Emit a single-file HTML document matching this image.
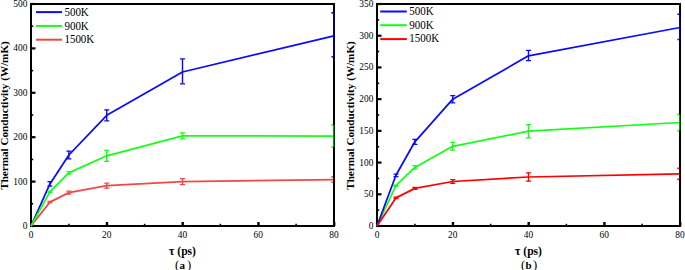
<!DOCTYPE html>
<html><head><meta charset="utf-8"><style>
html,body{margin:0;padding:0;background:#fff;}
body{width:685px;height:270px;overflow:hidden;}
svg{display:block;}
text{font-family:"Liberation Serif",serif;fill:#000;}
.tk{font-size:9.4px;}
.lg{font-size:11px;}
.ax{font-size:11px;font-weight:bold;}
.yt{font-size:11.15px;}
.xt{font-size:11.6px;}
.pr{font-size:12.6px;}
</style></head><body>
<svg width="685" height="270" viewBox="0 0 685 270">
<rect width="685" height="270" fill="#fff"/>
<rect x="31" y="4" width="303" height="222" fill="none" stroke="#000" stroke-width="2"/>
<line x1="31" y1="226" x2="35.5" y2="226" stroke="#000" stroke-width="2.2"/>
<text x="27.4" y="229" text-anchor="end" class="tk">0</text>
<line x1="31" y1="203.8" x2="33.2" y2="203.8" stroke="#000" stroke-width="1.6"/>
<line x1="31" y1="181.6" x2="35.5" y2="181.6" stroke="#000" stroke-width="2.2"/>
<text x="27.4" y="184.6" text-anchor="end" class="tk">100</text>
<line x1="31" y1="159.4" x2="33.2" y2="159.4" stroke="#000" stroke-width="1.6"/>
<line x1="31" y1="137.2" x2="35.5" y2="137.2" stroke="#000" stroke-width="2.2"/>
<text x="27.4" y="140.2" text-anchor="end" class="tk">200</text>
<line x1="31" y1="115" x2="33.2" y2="115" stroke="#000" stroke-width="1.6"/>
<line x1="31" y1="92.8" x2="35.5" y2="92.8" stroke="#000" stroke-width="2.2"/>
<text x="27.4" y="95.8" text-anchor="end" class="tk">300</text>
<line x1="31" y1="70.6" x2="33.2" y2="70.6" stroke="#000" stroke-width="1.6"/>
<line x1="31" y1="48.4" x2="35.5" y2="48.4" stroke="#000" stroke-width="2.2"/>
<text x="27.4" y="51.4" text-anchor="end" class="tk">400</text>
<line x1="31" y1="26.2" x2="33.2" y2="26.2" stroke="#000" stroke-width="1.6"/>
<line x1="31" y1="4" x2="35.5" y2="4" stroke="#000" stroke-width="2.2"/>
<text x="27.4" y="7" text-anchor="end" class="tk">500</text>
<line x1="31.2" y1="226" x2="31.2" y2="222" stroke="#000" stroke-width="2.4"/>
<text x="31" y="237.6" text-anchor="middle" class="tk">0</text>
<line x1="106.95" y1="226" x2="106.95" y2="222" stroke="#000" stroke-width="2.4"/>
<text x="106.75" y="237.6" text-anchor="middle" class="tk">20</text>
<line x1="182.7" y1="226" x2="182.7" y2="222" stroke="#000" stroke-width="2.4"/>
<text x="182.5" y="237.6" text-anchor="middle" class="tk">40</text>
<line x1="258.45" y1="226" x2="258.45" y2="222" stroke="#000" stroke-width="2.4"/>
<text x="258.25" y="237.6" text-anchor="middle" class="tk">60</text>
<line x1="334.2" y1="226" x2="334.2" y2="222" stroke="#000" stroke-width="2.4"/>
<text x="334" y="237.6" text-anchor="middle" class="tk">80</text>
<line x1="68.88" y1="226" x2="68.88" y2="223.8" stroke="#000" stroke-width="1.6"/>
<line x1="144.62" y1="226" x2="144.62" y2="223.8" stroke="#000" stroke-width="1.6"/>
<line x1="220.38" y1="226" x2="220.38" y2="223.8" stroke="#000" stroke-width="1.6"/>
<line x1="296.12" y1="226" x2="296.12" y2="223.8" stroke="#000" stroke-width="1.6"/>
<path d="M31,226 L49.94,183.9 L68.88,155 L106.75,115.3 L182.5,72 L334,35.8" fill="none" stroke="#0a0aff" stroke-width="1.75" stroke-linejoin="round"/>
<path d="M49.94,181.6 V186.2" fill="none" stroke="#0a0aff" stroke-width="1.45"/>
<path d="M47.44,181.6 H52.44 M47.44,186.2 H52.44" fill="none" stroke="#0a0aff" stroke-width="1.25"/>
<path d="M68.88,151.1 V158.9" fill="none" stroke="#0a0aff" stroke-width="1.45"/>
<path d="M66.38,151.1 H71.38 M66.38,158.9 H71.38" fill="none" stroke="#0a0aff" stroke-width="1.25"/>
<path d="M106.75,109.8 V120.8" fill="none" stroke="#0a0aff" stroke-width="1.45"/>
<path d="M104.25,109.8 H109.25 M104.25,120.8 H109.25" fill="none" stroke="#0a0aff" stroke-width="1.25"/>
<path d="M182.5,58.9 V83.8" fill="none" stroke="#0a0aff" stroke-width="1.45"/>
<path d="M180,58.9 H185 M180,83.8 H185" fill="none" stroke="#0a0aff" stroke-width="1.25"/>
<path d="M31,226 L49.94,202.1 L68.88,192.6 L106.75,185.7 L182.5,181.7 L334,179.6" fill="none" stroke="#f04848" stroke-width="1.75" stroke-linejoin="round"/>
<path d="M49.94,201.4 V202.8" fill="none" stroke="#f04848" stroke-width="1.45"/>
<path d="M47.44,201.4 H52.44 M47.44,202.8 H52.44" fill="none" stroke="#f04848" stroke-width="1.25"/>
<path d="M68.88,191.2 V194" fill="none" stroke="#f04848" stroke-width="1.45"/>
<path d="M66.38,191.2 H71.38 M66.38,194 H71.38" fill="none" stroke="#f04848" stroke-width="1.25"/>
<path d="M106.75,183.2 V188.2" fill="none" stroke="#f04848" stroke-width="1.45"/>
<path d="M104.25,183.2 H109.25 M104.25,188.2 H109.25" fill="none" stroke="#f04848" stroke-width="1.25"/>
<path d="M182.5,178.7 V184.7" fill="none" stroke="#f04848" stroke-width="1.45"/>
<path d="M180,178.7 H185 M180,184.7 H185" fill="none" stroke="#f04848" stroke-width="1.25"/>
<path d="M31,226 L49.94,191.8 L68.88,172.9 L106.75,155.8 L182.5,135.9 L334,136" fill="none" stroke="#14ff14" stroke-width="1.75" stroke-linejoin="round"/>
<path d="M49.94,191.1 V192.5" fill="none" stroke="#14ff14" stroke-width="1.45"/>
<path d="M47.44,191.1 H52.44 M47.44,192.5 H52.44" fill="none" stroke="#14ff14" stroke-width="1.25"/>
<path d="M68.88,171.6 V174.2" fill="none" stroke="#14ff14" stroke-width="1.45"/>
<path d="M66.38,171.6 H71.38 M66.38,174.2 H71.38" fill="none" stroke="#14ff14" stroke-width="1.25"/>
<path d="M106.75,150.3 V161.3" fill="none" stroke="#14ff14" stroke-width="1.45"/>
<path d="M104.25,150.3 H109.25 M104.25,161.3 H109.25" fill="none" stroke="#14ff14" stroke-width="1.25"/>
<path d="M182.5,132.9 V138.9" fill="none" stroke="#14ff14" stroke-width="1.45"/>
<path d="M180,132.9 H185 M180,138.9 H185" fill="none" stroke="#14ff14" stroke-width="1.25"/>
<rect x="333" y="12.9" width="1" height="43.8" fill="#0000a8"/>
<rect x="334" y="12.9" width="1" height="43.8" fill="#000050"/>
<path d="M331.4,12.9 H333 M331.4,56.7 H333" stroke="#0a0aff" stroke-width="1.6"/>
<rect x="333" y="176.9" width="1" height="5.4" fill="#401010"/>
<rect x="334" y="176.9" width="1" height="5.4" fill="#000"/>
<path d="M331.4,176.9 H333 M331.4,182.3 H333" stroke="#f04848" stroke-width="1.6"/>
<rect x="333" y="125" width="1" height="22" fill="#009a00"/>
<rect x="334" y="125" width="1" height="22" fill="#003a00"/>
<path d="M331.4,125 H333 M331.4,147 H333" stroke="#14ff14" stroke-width="1.6"/>
<line x1="36" y1="12.1" x2="62" y2="12.1" stroke="#0a0aff" stroke-width="2"/>
<text transform="translate(64.4,15.8) scale(1,1.13)" class="lg">500K</text>
<line x1="36" y1="25.9" x2="62" y2="25.9" stroke="#14ff14" stroke-width="2"/>
<text transform="translate(64.4,29.6) scale(1,1.13)" class="lg">900K</text>
<line x1="36" y1="39.7" x2="62" y2="39.7" stroke="#f04848" stroke-width="2"/>
<text transform="translate(64.4,43.4) scale(1,1.13)" class="lg">1500K</text>
<text x="182.5" y="254.9" text-anchor="middle" class="ax xt">τ (ps)</text>
<text x="175" y="268.9" class="pr">(</text>
<text x="182.3" y="268.7" text-anchor="middle" class="ax">a</text>
<text x="191.1" y="268.9" text-anchor="end" class="pr">)</text>
<text transform="translate(8.3,115.5) rotate(-90)" text-anchor="middle" class="ax yt">Thermal Conductivity (W/mK)</text>
<rect x="377" y="4" width="303" height="222" fill="none" stroke="#000" stroke-width="2"/>
<line x1="377" y1="226" x2="381.5" y2="226" stroke="#000" stroke-width="2.2"/>
<text x="373.4" y="229" text-anchor="end" class="tk">0</text>
<line x1="377" y1="210.14" x2="379.2" y2="210.14" stroke="#000" stroke-width="1.6"/>
<line x1="377" y1="194.29" x2="381.5" y2="194.29" stroke="#000" stroke-width="2.2"/>
<text x="373.4" y="197.29" text-anchor="end" class="tk">50</text>
<line x1="377" y1="178.43" x2="379.2" y2="178.43" stroke="#000" stroke-width="1.6"/>
<line x1="377" y1="162.57" x2="381.5" y2="162.57" stroke="#000" stroke-width="2.2"/>
<text x="373.4" y="165.57" text-anchor="end" class="tk">100</text>
<line x1="377" y1="146.71" x2="379.2" y2="146.71" stroke="#000" stroke-width="1.6"/>
<line x1="377" y1="130.86" x2="381.5" y2="130.86" stroke="#000" stroke-width="2.2"/>
<text x="373.4" y="133.86" text-anchor="end" class="tk">150</text>
<line x1="377" y1="115" x2="379.2" y2="115" stroke="#000" stroke-width="1.6"/>
<line x1="377" y1="99.14" x2="381.5" y2="99.14" stroke="#000" stroke-width="2.2"/>
<text x="373.4" y="102.14" text-anchor="end" class="tk">200</text>
<line x1="377" y1="83.29" x2="379.2" y2="83.29" stroke="#000" stroke-width="1.6"/>
<line x1="377" y1="67.43" x2="381.5" y2="67.43" stroke="#000" stroke-width="2.2"/>
<text x="373.4" y="70.43" text-anchor="end" class="tk">250</text>
<line x1="377" y1="51.57" x2="379.2" y2="51.57" stroke="#000" stroke-width="1.6"/>
<line x1="377" y1="35.71" x2="381.5" y2="35.71" stroke="#000" stroke-width="2.2"/>
<text x="373.4" y="38.71" text-anchor="end" class="tk">300</text>
<line x1="377" y1="19.86" x2="379.2" y2="19.86" stroke="#000" stroke-width="1.6"/>
<line x1="377" y1="4" x2="381.5" y2="4" stroke="#000" stroke-width="2.2"/>
<text x="373.4" y="7" text-anchor="end" class="tk">350</text>
<line x1="377.2" y1="226" x2="377.2" y2="222" stroke="#000" stroke-width="2.4"/>
<text x="377" y="237.6" text-anchor="middle" class="tk">0</text>
<line x1="452.95" y1="226" x2="452.95" y2="222" stroke="#000" stroke-width="2.4"/>
<text x="452.75" y="237.6" text-anchor="middle" class="tk">20</text>
<line x1="528.7" y1="226" x2="528.7" y2="222" stroke="#000" stroke-width="2.4"/>
<text x="528.5" y="237.6" text-anchor="middle" class="tk">40</text>
<line x1="604.45" y1="226" x2="604.45" y2="222" stroke="#000" stroke-width="2.4"/>
<text x="604.25" y="237.6" text-anchor="middle" class="tk">60</text>
<line x1="680.2" y1="226" x2="680.2" y2="222" stroke="#000" stroke-width="2.4"/>
<text x="680" y="237.6" text-anchor="middle" class="tk">80</text>
<line x1="414.88" y1="226" x2="414.88" y2="223.8" stroke="#000" stroke-width="1.6"/>
<line x1="490.62" y1="226" x2="490.62" y2="223.8" stroke="#000" stroke-width="1.6"/>
<line x1="566.38" y1="226" x2="566.38" y2="223.8" stroke="#000" stroke-width="1.6"/>
<line x1="642.12" y1="226" x2="642.12" y2="223.8" stroke="#000" stroke-width="1.6"/>
<path d="M377,226 L395.94,185.7 L414.88,167.4 L452.75,146.3 L528.5,131.2 L680,122.5" fill="none" stroke="#14ff14" stroke-width="1.75" stroke-linejoin="round"/>
<path d="M395.94,185 V186.4" fill="none" stroke="#14ff14" stroke-width="1.45"/>
<path d="M393.44,185 H398.44 M393.44,186.4 H398.44" fill="none" stroke="#14ff14" stroke-width="1.25"/>
<path d="M414.88,165.6 V169.2" fill="none" stroke="#14ff14" stroke-width="1.45"/>
<path d="M412.38,165.6 H417.38 M412.38,169.2 H417.38" fill="none" stroke="#14ff14" stroke-width="1.25"/>
<path d="M452.75,142.4 V150.2" fill="none" stroke="#14ff14" stroke-width="1.45"/>
<path d="M450.25,142.4 H455.25 M450.25,150.2 H455.25" fill="none" stroke="#14ff14" stroke-width="1.25"/>
<path d="M528.5,124.5 V137.9" fill="none" stroke="#14ff14" stroke-width="1.45"/>
<path d="M526,124.5 H531 M526,137.9 H531" fill="none" stroke="#14ff14" stroke-width="1.25"/>
<path d="M377,226 L395.94,175.3 L414.88,141.8 L452.75,99.2 L528.5,55.8 L680,27.5" fill="none" stroke="#0a0aff" stroke-width="1.75" stroke-linejoin="round"/>
<path d="M395.94,174.1 V176.5" fill="none" stroke="#0a0aff" stroke-width="1.45"/>
<path d="M393.44,174.1 H398.44 M393.44,176.5 H398.44" fill="none" stroke="#0a0aff" stroke-width="1.25"/>
<path d="M414.88,139.3 V144.3" fill="none" stroke="#0a0aff" stroke-width="1.45"/>
<path d="M412.38,139.3 H417.38 M412.38,144.3 H417.38" fill="none" stroke="#0a0aff" stroke-width="1.25"/>
<path d="M452.75,95.6 V102.8" fill="none" stroke="#0a0aff" stroke-width="1.45"/>
<path d="M450.25,95.6 H455.25 M450.25,102.8 H455.25" fill="none" stroke="#0a0aff" stroke-width="1.25"/>
<path d="M528.5,50.3 V60.6" fill="none" stroke="#0a0aff" stroke-width="1.45"/>
<path d="M526,50.3 H531 M526,60.6 H531" fill="none" stroke="#0a0aff" stroke-width="1.25"/>
<path d="M377,226 L395.94,197.9 L414.88,188.4 L452.75,181.5 L528.5,177 L680,173.9" fill="none" stroke="#ff0000" stroke-width="1.75" stroke-linejoin="round"/>
<path d="M395.94,197.2 V198.6" fill="none" stroke="#ff0000" stroke-width="1.45"/>
<path d="M393.44,197.2 H398.44 M393.44,198.6 H398.44" fill="none" stroke="#ff0000" stroke-width="1.25"/>
<path d="M414.88,187.4 V189.4" fill="none" stroke="#ff0000" stroke-width="1.45"/>
<path d="M412.38,187.4 H417.38 M412.38,189.4 H417.38" fill="none" stroke="#ff0000" stroke-width="1.25"/>
<path d="M452.75,179.6 V183.4" fill="none" stroke="#ff0000" stroke-width="1.45"/>
<path d="M450.25,179.6 H455.25 M450.25,183.4 H455.25" fill="none" stroke="#ff0000" stroke-width="1.25"/>
<path d="M528.5,172.8 V181.2" fill="none" stroke="#ff0000" stroke-width="1.45"/>
<path d="M526,172.8 H531 M526,181.2 H531" fill="none" stroke="#ff0000" stroke-width="1.25"/>
<rect x="679" y="114.4" width="1" height="16.2" fill="#009a00"/>
<rect x="680" y="114.4" width="1" height="16.2" fill="#003a00"/>
<path d="M677.4,114.4 H679 M677.4,130.6 H679" stroke="#14ff14" stroke-width="1.6"/>
<rect x="679" y="14.3" width="1" height="25.2" fill="#0000c0"/>
<rect x="680" y="14.3" width="1" height="25.2" fill="#000060"/>
<path d="M677.4,14.3 H679 M677.4,39.5 H679" stroke="#0a0aff" stroke-width="1.6"/>
<rect x="679" y="168.4" width="1" height="11" fill="#500000"/>
<rect x="680" y="168.4" width="1" height="11" fill="#000"/>
<path d="M677.4,168.4 H679 M677.4,179.4 H679" stroke="#ff0000" stroke-width="1.6"/>
<line x1="380.2" y1="11.5" x2="406.8" y2="11.5" stroke="#0a0aff" stroke-width="2"/>
<text transform="translate(409.3,14.8) scale(1,1.13)" class="lg">500K</text>
<line x1="380.2" y1="25.2" x2="406.8" y2="25.2" stroke="#14ff14" stroke-width="2"/>
<text transform="translate(409.3,28.5) scale(1,1.13)" class="lg">900K</text>
<line x1="380.2" y1="39.1" x2="406.8" y2="39.1" stroke="#ff0000" stroke-width="2"/>
<text transform="translate(409.3,42.4) scale(1,1.13)" class="lg">1500K</text>
<text x="528.5" y="254.9" text-anchor="middle" class="ax xt">τ (ps)</text>
<text x="521" y="268.9" class="pr">(</text>
<text x="528.6" y="268.7" text-anchor="middle" class="ax">b</text>
<text x="537.1" y="268.9" text-anchor="end" class="pr">)</text>
<text transform="translate(354.3,115.5) rotate(-90)" text-anchor="middle" class="ax yt">Thermal Conductivity (W/mK)</text>
</svg>
</body></html>
